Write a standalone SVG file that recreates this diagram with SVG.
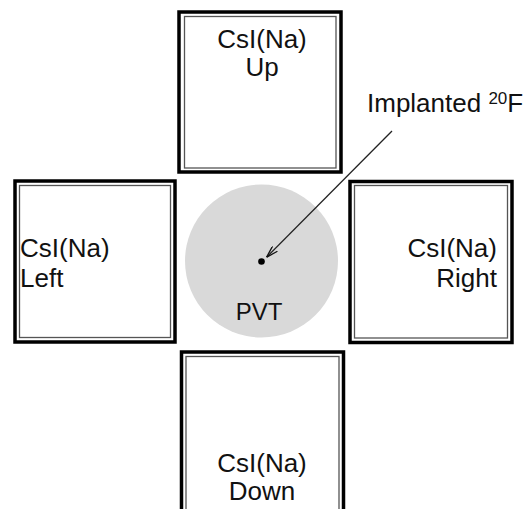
<svg xmlns="http://www.w3.org/2000/svg" width="528" height="509" viewBox="0 0 528 509">
<defs>
<style>
.outer{fill:#fff;stroke:#000;stroke-width:3.5}
.inner{fill:none;stroke:#555;stroke-width:1.3}
.lbl{font-family:"Liberation Sans",Arial,sans-serif;font-size:26px;fill:#111}
.mid{text-anchor:middle}
.end{text-anchor:end}
.conn{fill:none;stroke:#222;stroke-width:1.3}
</style>
<marker id="arr" viewBox="0 0 12 8" refX="12" refY="4" markerWidth="12" markerHeight="8" markerUnits="userSpaceOnUse" orient="auto">
<path d="M0,0.5 L12,4 L0,7.5" fill="none" stroke="#111" stroke-width="1.3"/>
</marker>
</defs>
<rect width="528" height="509" fill="#fff"/>
<g id="up">
<rect class="outer" x="179" y="12" width="162" height="160"/>
<rect class="inner" x="184.5" y="16.5" width="151.5" height="151.5"/>
<text class="lbl mid" x="262" y="48">CsI(Na)</text>
<text class="lbl mid" x="262" y="76">Up</text>
</g>
<g id="left">
<rect class="outer" x="15" y="181" width="160" height="161"/>
<rect class="inner" x="19.5" y="185.5" width="151" height="152"/>
<text class="lbl" x="20" y="257">CsI(Na)</text>
<text class="lbl" x="20" y="287">Left</text>
</g>
<g id="right">
<rect class="outer" x="350" y="181.5" width="162" height="161"/>
<rect class="inner" x="354.5" y="185.5" width="153" height="152.5"/>
<text class="lbl end" x="497" y="257">CsI(Na)</text>
<text class="lbl end" x="497" y="287">Right</text>
</g>
<g id="down">
<rect class="outer" x="181.5" y="352" width="162" height="180"/>
<rect class="inner" x="186" y="356.5" width="153" height="170"/>
<text class="lbl mid" x="262" y="472">CsI(Na)</text>
<text class="lbl mid" x="262" y="500">Down</text>
</g>
<g id="pvt">
<circle cx="261.5" cy="261" r="76.5" fill="#d9d9d9"/>
<circle cx="261.5" cy="261.5" r="3.3" fill="#000"/>
<text class="lbl mid" x="259" y="320" style="font-size:24px">PVT</text>
</g>
<g id="implanted-label">
<text class="lbl" x="367" y="112">Implanted <tspan style="font-size:17px" dy="-8">20</tspan><tspan dy="8">F</tspan></text>
</g>
<g id="connectors">
<line class="conn" x1="392" y1="131" x2="266.5" y2="257.3" marker-end="url(#arr)"/>
</g>
</svg>
